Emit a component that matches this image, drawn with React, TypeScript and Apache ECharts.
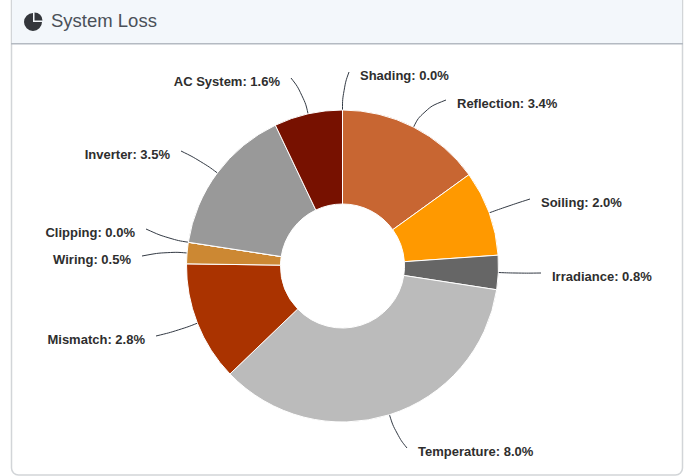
import React, { useEffect, useRef } from "react";
import * as echarts from "echarts";

const categories = ["Reflection", "Soiling", "Irradiance", "Temperature", "Mismatch", "Wiring", "Clipping", "Inverter", "AC System", "Shading"];
const lossValues = [3.4, 2.0, 0.8, 8.0, 2.8, 0.5, 0.0, 3.5, 1.6, 0.0];
const sliceColors = ["#c86632", "#ff9900", "#666666", "#bbbbbb", "#aa3300", "#cc8833", "#888888", "#999999", "#771100", "#aaaaaa"];

// Where each label text sits: x, y, and the gap side taken by its leader line
const labelSpots: [number, number, "left" | "right"][] = [
  [457, 103, "left"],
  [541, 202, "left"],
  [552, 276, "left"],
  [418, 451, "left"],
  [145, 339, "right"],
  [131, 259, "right"],
  [135, 232, "right"],
  [170, 154, "right"],
  [280, 81, "right"],
  [360, 75, "left"],
];

export default function App() {
  const ref = useRef<HTMLDivElement>(null);
  useEffect(() => {
    document.body.style.margin = "0";
    const chart = echarts.init(ref.current!, null, { renderer: "svg" });
    chart.setOption({
      animation: false,
      backgroundColor: "#ffffff",
      graphic: [
        { type: "rect", z: 0, shape: { x: 11.5, y: -8, width: 671, height: 483, r: 7 }, style: { fill: "#ffffff", stroke: "#d2d5d8", lineWidth: 1.5 } },
        { type: "rect", z: 1, shape: { x: 12, y: -7, width: 670, height: 50, r: [7, 7, 0, 0] }, style: { fill: "#f3f7fb" } },
        { type: "rect", z: 1, shape: { x: 11, y: 43, width: 672, height: 1.5 }, style: { fill: "#b4bac2" } },
        // Header icon: a pie with one quarter pulled out
        { type: "sector", z: 2, shape: { cx: 33, cy: 22, r: 9, r0: 0, startAngle: 0, endAngle: Math.PI * 1.5 }, style: { fill: "#33363b" } },
        { type: "sector", z: 2, shape: { cx: 34.5, cy: 20.5, r: 8, r0: 0, startAngle: -Math.PI / 2, endAngle: 0 }, style: { fill: "#33363b" } },
        { type: "text", z: 2, style: { x: 51, y: 20, text: "System Loss", font: "400 18.5px 'Liberation Sans', sans-serif", fill: "#4a5058", verticalAlign: "middle" } },
      ],
      series: [
        {
          type: "pie",
          center: [342.5, 266],
          radius: [62, 156],
          startAngle: 90,
          clockwise: true,
          avoidLabelOverlap: false,
          color: sliceColors,
          itemStyle: { borderColor: "#ffffff", borderWidth: 1 },
          label: {
            show: true,
            formatter: (p: any) => `${p.name}: ${p.value.toFixed(1)}%`,
            fontFamily: "'Liberation Sans', sans-serif",
            fontSize: 13,
            fontWeight: "bold",
            color: "#2e2e2e",
          },
          labelLine: { show: true, length: 20, length2: 12, smooth: 0.5, lineStyle: { color: "#333a44", width: 1 } },
          // Text goes to its spot; the leader keeps the library's start on the slice edge
          labelLayout: (params: any) => {
            const [x, y, side] = labelSpots[params.dataIndex];
            const pts = params.labelLinePoints;
            const gap = side === "left" ? -11 : 11;
            return {
              x,
              y,
              align: side,
              verticalAlign: "middle",
              labelLinePoints: [pts[0], pts[1], [x + gap, y - 3]],
            };
          },
          data: categories.map((name, i) => ({ name, value: lossValues[i] })),
        },
      ],
    });
    return () => chart.dispose();
  }, []);
  return <div ref={ref} style={{ width: 692, height: 476 }} />;
}
